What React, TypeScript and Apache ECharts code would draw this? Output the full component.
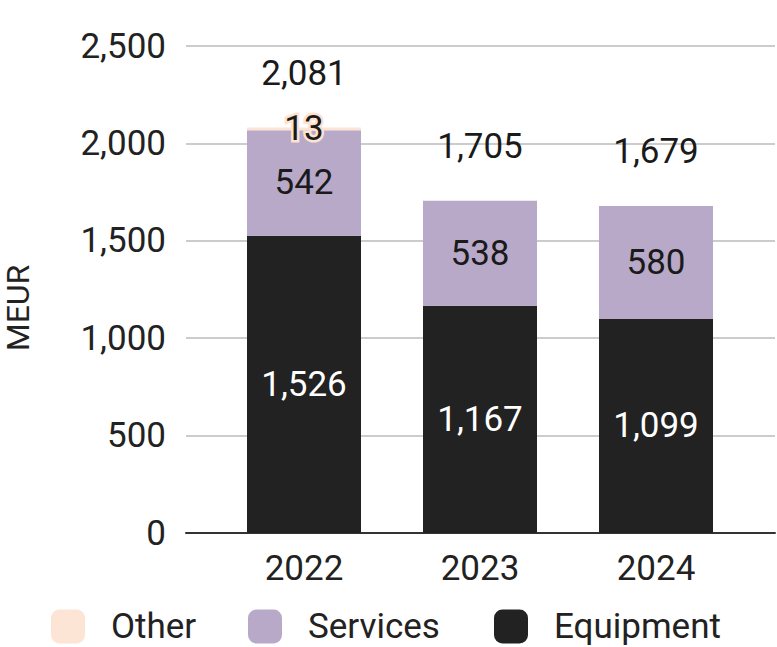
import React, { useEffect, useRef } from "react";
import * as echarts from "echarts";

const years = ["2022", "2023", "2024"];
const equipment = [1526, 1167, 1099];
const services = [542, 538, 580];
const other = [13, 0, 0];
const totals = [2081, 1705, 1679];
const yTicks = { min: 0, max: 2500, interval: 500 };
const legendNames = ["Other", "Services", "Equipment"];

const FONT = "Roboto";
const FS = 35;
const fmt = (v: number) => v.toLocaleString("en-US");

export default function App() {
  const ref = useRef<HTMLDivElement>(null);
  useEffect(() => {
    if (!ref.current) return;
    const chart = echarts.init(ref.current, undefined, { renderer: "svg" });
    const gridTop = 46;
    const gridBottom = 114;
    const legendLefts = [51, 248, 494];
    chart.setOption({
      animation: false,
      textStyle: { fontFamily: FONT },
      grid: [
        { left: 186, right: 2, top: gridTop, bottom: gridBottom },
        { left: 216, right: 33, top: gridTop, bottom: gridBottom },
      ],
      xAxis: [
        {
          gridIndex: 0,
          type: "value",
          min: 0,
          max: 1,
          axisLine: { show: true, lineStyle: { color: "#333333", width: 2 } },
          axisTick: { show: false },
          axisLabel: { show: false },
          splitLine: { show: false },
        },
        {
          gridIndex: 1,
          type: "category",
          data: years,
          axisLine: { show: false },
          axisTick: { show: false },
          axisLabel: { fontSize: FS, color: "#222222", margin: 18, fontFamily: FONT },
        },
      ],
      yAxis: [
        {
          gridIndex: 0,
          type: "value",
          min: yTicks.min,
          max: yTicks.max,
          interval: yTicks.interval,
          axisLine: { show: false },
          axisTick: { show: false },
          axisLabel: {
            fontSize: FS,
            color: "#222222",
            margin: 20,
            fontFamily: FONT,
            formatter: (v: number) => fmt(v),
          },
          splitLine: { lineStyle: { color: "#cccccc", width: 2 } },
        },
        {
          gridIndex: 1,
          type: "value",
          min: yTicks.min,
          max: yTicks.max,
          interval: yTicks.interval,
          show: false,
          splitLine: { show: false },
        },
      ],
      legend: legendNames.map((n, i) => ({
        data: [n],
        left: legendLefts[i],
        top: 609,
        padding: 0,
        icon: "roundRect",
        itemWidth: 34,
        itemHeight: 34,
        textStyle: {
          fontSize: FS,
          lineHeight: 34,
          color: "#222222",
          fontFamily: FONT,
          padding: [0, 0, 0, 21],
        },
      })),
      graphic: [
        {
          type: "text",
          x: 18,
          y: 308,
          rotation: Math.PI / 2,
          style: {
            text: "MEUR",
            fontSize: 32,
            fontFamily: FONT,
            fill: "#222222",
            align: "center",
            verticalAlign: "middle",
          },
        },
      ],
      series: [
        {
          name: "Equipment",
          type: "bar",
          xAxisIndex: 1,
          yAxisIndex: 1,
          stack: "a",
          barWidth: 114,
          data: equipment,
          itemStyle: { color: "#222222" },
          label: {
            show: true,
            position: "inside",
            color: "#ffffff",
            fontSize: FS,
            fontFamily: FONT,
            formatter: (p: any) => fmt(p.value),
          },
        },
        {
          name: "Services",
          type: "bar",
          xAxisIndex: 1,
          yAxisIndex: 1,
          stack: "a",
          barWidth: 114,
          data: services,
          itemStyle: { color: "#b8a9c9" },
          label: {
            show: true,
            position: "inside",
            color: "#1a1a1a",
            fontSize: FS,
            fontFamily: FONT,
            formatter: (p: any) => fmt(p.value),
          },
        },
        {
          name: "Other",
          type: "bar",
          xAxisIndex: 1,
          yAxisIndex: 1,
          stack: "a",
          barWidth: 114,
          data: other,
          itemStyle: { color: "#fce5d5" },
          label: {
            show: true,
            position: "inside",
            color: "#1a1a1a",
            fontSize: FS,
            fontFamily: FONT,
            textBorderColor: "#fde2d0",
            textBorderWidth: 5,
            formatter: (p: any) => (p.value ? fmt(p.value) : ""),
          },
        },
        {
          name: "Total",
          type: "bar",
          xAxisIndex: 1,
          yAxisIndex: 1,
          stack: "a",
          barWidth: 114,
          data: [0, 0, 0],
          itemStyle: { color: "transparent" },
          label: {
            show: true,
            position: "top",
            distance: 37,
            color: "#1a1a1a",
            fontSize: FS,
            fontFamily: FONT,
            formatter: (p: any) => fmt(totals[p.dataIndex]),
          },
        },
      ],
    });
    return () => chart.dispose();
  }, []);
  return (
    <div
      ref={ref}
      style={{ position: "absolute", left: 0, top: 0, width: 777, height: 647, background: "#ffffff" }}
    />
  );
}
